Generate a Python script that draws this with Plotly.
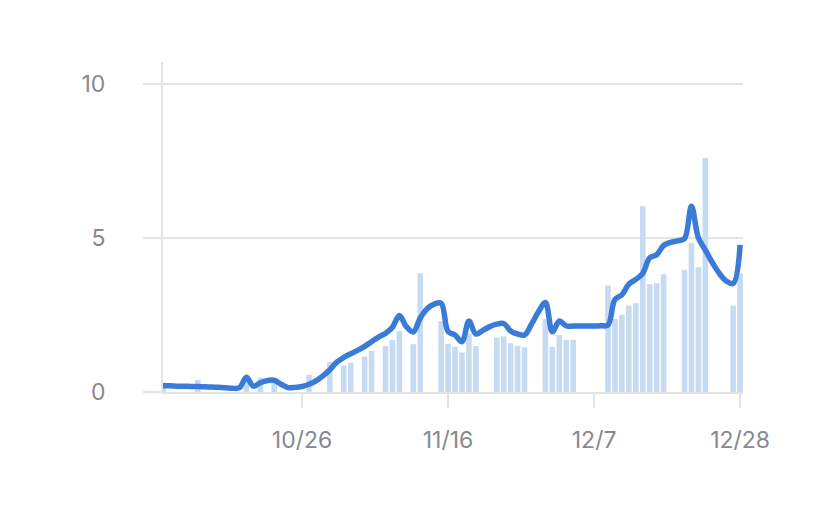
import pandas as pd
import plotly.graph_objects as go

# daily values, 2020-10-06 .. 2020-12-28
start_date = "2020-10-06"
end_date = "2020-12-28"

daily_bars = [
    # Oct 6-31
    0.13, None, None, None, None, 0.39, None, None, None, None, None, None,
    0.45, None, 0.47, None, 0.31, None, None, None, None, 0.56, None, None,
    0.97, None,
    # Nov
    0.86, 0.95, None, 1.15, 1.33, None, 1.49, 1.68, 1.98, None, 1.55, 3.85,
    None, None, 2.3, 1.56, 1.47, 1.28, 1.9, 1.49, None, None, 1.76, 1.8,
    1.58, 1.5, 1.45, None, None, 2.36,
    # Dec 1-28
    1.47, 1.85, 1.69, 1.69, None, None, None, None, 3.45, 2.37, 2.5, 2.8,
    2.88, 6.02, 3.5, 3.53, 3.82, None, None, 3.96, 4.83, 4.05, 7.59, None,
    None, None, 2.8, 3.85,
]

rolling_avg = [
    # Oct 6-31
    0.2, 0.2, 0.19, 0.19, 0.18, 0.18, 0.17, 0.16, 0.15, 0.14, 0.12, 0.14,
    0.48, 0.19, 0.3, 0.37, 0.38, 0.25, 0.14, 0.15, 0.18, 0.25, 0.36, 0.52,
    0.72, 0.97,
    # Nov
    1.12, 1.24, 1.35, 1.48, 1.63, 1.78, 1.9, 2.1, 2.48, 2.12, 1.95, 2.4,
    2.7, 2.85, 2.88, 1.96, 1.85, 1.63, 2.3, 1.88, 2.0, 2.12, 2.2, 2.22,
    1.98, 1.88, 1.85, 2.2, 2.6, 2.9,
    # Dec 1-28
    1.95, 2.3, 2.14, 2.14, 2.14, 2.14, 2.14, 2.15, 2.17, 3.0, 3.15, 3.5,
    3.65, 3.85, 4.35, 4.45, 4.75, 4.85, 4.9, 4.97, 6.02, 5.0, 4.6, 4.2,
    3.85, 3.6, 3.52, 4.77,
]

tick_dates = ["2020-10-26", "2020-11-16", "2020-12-07", "2020-12-28"]
tick_labels = ["10/26", "11/16", "12/7", "12/28"]
y_ticks = [0, 5, 10]

dates = pd.date_range(start_date, end_date, freq="D")

grid_color = "#e4e4e4"
font_color = "#88888f"

fig = go.Figure()

fig.add_trace(go.Bar(
    x=dates,
    y=daily_bars,
    marker=dict(color="#c5daf3", line=dict(width=0)),
    name="Daily",
))

fig.add_trace(go.Scatter(
    x=dates,
    y=rolling_avg,
    mode="lines",
    line=dict(color="#3a7bd8", width=5.5, shape="spline", smoothing=1),
    name="Average",
))

fig.update_layout(
    width=822,
    height=516,
    margin=dict(l=155, r=87, t=54, b=132),
    paper_bgcolor="white",
    plot_bgcolor="white",
    showlegend=False,
    bargap=0.2,
    font=dict(family="Inter, Lato, sans-serif", size=23, color=font_color),
)

fig.update_xaxes(
    range=["2020-10-06", "2020-12-28 10:00"],
    tickvals=tick_dates,
    ticktext=tick_labels,
    showgrid=False,
    showline=True,
    linecolor=grid_color,
    linewidth=2,
    ticks="outside",
    ticklen=14,
    tickwidth=2,
    tickcolor=grid_color,
    ticklabelstandoff=12,
    zeroline=False,
)

fig.update_yaxes(
    range=[0, 10.7],
    tickvals=y_ticks,
    showgrid=True,
    gridcolor=grid_color,
    gridwidth=2,
    showline=True,
    linecolor=grid_color,
    linewidth=2,
    ticks="outside",
    ticklen=18,
    tickwidth=2,
    tickcolor=grid_color,
    ticklabelstandoff=33,
    zeroline=False,
)

fig.write_html("out.html")
